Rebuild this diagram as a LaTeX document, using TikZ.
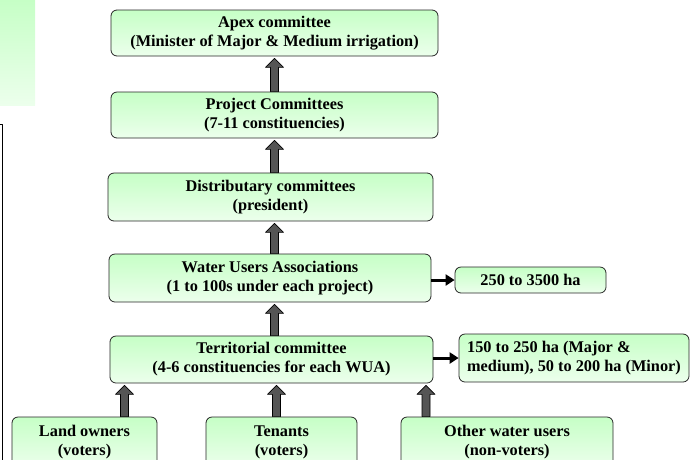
\documentclass[tikz,border=0pt]{standalone}
\usepackage{fontspec}
\setmainfont{Liberation Serif}
\usetikzlibrary{arrows.meta,calc}
\definecolor{boxtop}{RGB}{198,255,198}
\definecolor{boxbot}{RGB}{236,255,236}
\definecolor{arrgray}{RGB}{85,85,85}
% gray block arrow pointing up, from #1 (base) to #2 (tip)
\newcommand\blockarrow[2]{%
  \draw[fill=arrgray,draw=black,line width=0.6pt] let \p1=(#1),\p2=(#2) in
    (\x1-4pt,\y1) -- (\x1-4pt,\y2-11pt) -- (\x1-9pt,\y2-11pt) -- (\x1,\y2-2pt)
    -- (\x1+9pt,\y2-11pt) -- (\x1+4pt,\y2-11pt) -- (\x1+4pt,\y1) -- cycle;}
\begin{document}
\begin{tikzpicture}[x=1pt,y=-1pt,line join=round]
    \tikzset{box/.style={draw=black!85,line width=0.8pt,rounded corners=6pt,top color=boxtop,bottom color=boxbot,
        align=center,inner sep=0pt,font=\fontsize{16.3}{19}\selectfont\bfseries},
        harrow/.style={line width=3pt,-{Triangle[length=9pt,width=11pt]}}}
    \useasboundingbox (0,0) rectangle (690,459);
    % left edge pieces
    \shade[top color=boxtop,bottom color=boxbot] (0,0) rectangle (35,105);
    \draw[line width=0.8pt] (0,124) -- (2,124) -- (2,462);
    % main chain
    \node[box,minimum width=327pt,minimum height=46pt] (apex) at (274.5,33) {Apex committee\\(Minister of Major \& Medium irrigation)};
    \node[box,minimum width=327pt,minimum height=46pt] (proj) at (274.5,115) {Project Committees\\(7-11 constituencies)};
    \node[box,minimum width=325pt,minimum height=48pt] (dist) at (270.5,197) {Distributary committees\\(president)};
    \node[box,minimum width=322pt,minimum height=48pt] (wua) at (270,278) {Water Users Associations\\(1 to 100s under each project)};
    \node[box,minimum width=323pt,minimum height=47pt] (terr) at (271.5,359.5) {Territorial committee\\(4-6 constituencies for each WUA)};
    % side notes
    \node[box,minimum width=151pt,minimum height=26pt] (area1) at (530.5,280) {250 to 3500 ha};
    \node[box,align=left,minimum width=230pt,minimum height=48pt] (area2) at (574,358) {150 to 250 ha (Major \&\\medium), 50 to 200 ha (Minor)};
    % members
    \node[box,minimum width=145pt,minimum height=50pt] (land) at (84.5,442) {Land owners\\(voters)};
    \node[box,minimum width=151pt,minimum height=50pt] (ten) at (281.5,442) {Tenants\\(voters)};
    \node[box,minimum width=212pt,minimum height=50pt] (other) at (507,442) {Other water users\\(non-voters)};
    % arrows
    \blockarrow{proj.north -| apex.south}{apex.south}
    \blockarrow{dist.north -| apex.south}{proj.south}
    \blockarrow{wua.north -| apex.south}{dist.south -| apex.south}
    \blockarrow{terr.north -| apex.south}{wua.south -| apex.south}
    \blockarrow{$(land.north)+(40,0)$}{$(land.north |- terr.south)+(40,0)$}
    \blockarrow{$(ten.north)+(-5,0)$}{$(ten.north |- terr.south)+(-5,0)$}
    \blockarrow{$(other.north)+(-81,0)$}{$(other.north |- terr.south)+(-81,0)$}
    \draw[harrow] (wua.east |- area1.west) -- (area1.west);
    \draw[harrow] (terr.east |- area2.west) -- (area2.west);
\end{tikzpicture}
\end{document}
